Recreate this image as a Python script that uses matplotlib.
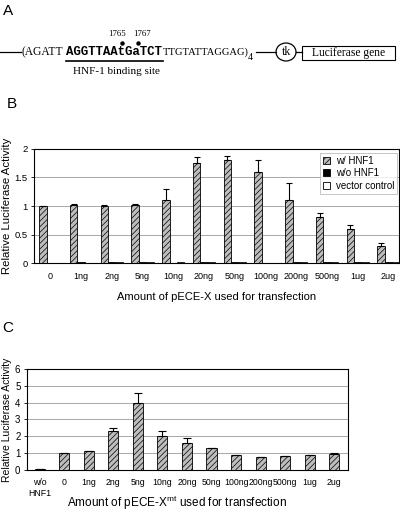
import numpy as np
import matplotlib.pyplot as plt
from matplotlib.patches import Rectangle, Ellipse

plt.rcParams['font.family'] = ['Liberation Sans', 'DejaVu Sans']
plt.rcParams['mathtext.fontset'] = 'custom'
plt.rcParams['mathtext.rm'] = 'Liberation Sans'
plt.rcParams['hatch.color'] = '#555555'
plt.rcParams['hatch.linewidth'] = 0.5

# Panel B data
doses_b = ['0', '1ng', '2ng', '5ng', '10ng', '20ng', '50ng', '100ng', '200ng', '500ng', '1ug', '2ug']
with_hnf1 = [1.0, 1.01, 1.0, 1.01, 1.1, 1.75, 1.8, 1.6, 1.1, 0.8, 0.6, 0.3]
with_hnf1_err = [0.0, 0.03, 0.01, 0.02, 0.2, 0.1, 0.08, 0.2, 0.3, 0.07, 0.07, 0.05]
without_hnf1 = [0.01, 0.03, 0.03, 0.03, 0.01, 0.03, 0.03, 0.01, 0.03, 0.02, 0.02, 0.02]
vector_ctrl = [0.01, 0.01, 0.03, 0.03, 0.03, 0.03, 0.03, 0.01, 0.03, 0.02, 0.02, 0.02]

# Panel C data
doses_c = ['w/o\nHNF1', '0', '1ng', '2ng', '5ng', '10ng', '20ng', '50ng', '100ng', '200ng',
           '500ng', '1ug', '2ug']
mutant = [0.05, 1.0, 1.1, 2.3, 4.0, 2.0, 1.6, 1.3, 0.88, 0.72, 0.8, 0.85, 0.9]
mutant_err = [0.0, 0.0, 0.0, 0.2, 0.6, 0.3, 0.3, 0.0, 0.0, 0.0, 0.0, 0.03, 0.1]

W, H = 400, 512
fig = plt.figure(figsize=(W / 100, H / 100), dpi=100)


def px_axes(x0, y0, x1, y1):
    # axes from pixel box (top-left origin)
    return fig.add_axes([x0 / W, 1 - y1 / H, (x1 - x0) / W, (y1 - y0) / H])


hatch_kw = dict(facecolor='#bdbdbd', hatch='//////', edgecolor='black', linewidth=0.6)

# ---- Panel A: construct diagram (pixel coordinates) ----
ax0 = fig.add_axes([0, 0, 1, 1], zorder=0)
ax0.set_xlim(0, W)
ax0.set_ylim(H, 0)
ax0.axis('off')

ax0.text(8, 11, 'A', fontsize=11, ha='center', va='center')
ax0.text(12, 104, 'B', fontsize=11, ha='center', va='center')
ax0.text(8, 328, 'C', fontsize=11, ha='center', va='center')

ys = 52
serif = 'Liberation Serif'
ax0.plot([0, 21], [ys, ys], color='black', lw=0.9)
ax0.text(22, ys, '(AGATT', family=serif, fontsize=8.3, ha='left', va='center')
ax0.text(66, ys, 'AGGTTAAtGaTCT', family='Liberation Mono', fontweight='bold',
         fontsize=8.9, ha='left', va='center')
ax0.text(163, ys, 'TTGTATTAGGAG)', family=serif, fontsize=7.6, ha='left', va='center')
ax0.text(248, ys + 5, '4', family=serif, fontsize=7, ha='left', va='center')
ax0.plot([66, 163], [60.5, 60.5], color='black', lw=1.2)
ax0.text(116, 71, 'HNF-1 binding site', family=serif, fontsize=8, ha='center', va='center')
ax0.text(117, 34, '1765', family=serif, fontsize=6.3, ha='center', va='center')
ax0.text(142, 34, '1767', family=serif, fontsize=6.3, ha='center', va='center')
ax0.plot([121.7, 137.7], [42.7, 42.7], 'o', color='black', ms=2.2)
ax0.plot([256, 276], [ys, ys], color='black', lw=0.9)
ax0.add_patch(Ellipse((286, ys), 20, 18, fill=False, edgecolor='black', lw=0.9))
ax0.text(286, ys, 'tk', family=serif, fontsize=8.5, ha='center', va='center')
ax0.plot([296, 302], [ys, ys], color='black', lw=0.9)
ax0.add_patch(Rectangle((302, 46), 93, 14, fill=False, edgecolor='black', lw=0.8))
ax0.text(348.5, 53, 'Luciferase gene', family=serif, fontsize=8.3, ha='center', va='center')

# ---- Panel B ----
bx0, bx1 = 34, 399
axb = px_axes(bx0, 148.7, bx1, 263.3)
x = np.arange(len(doses_b))
bw = 0.24
err_b = [np.zeros(len(with_hnf1_err)), with_hnf1_err]
axb.bar(x - bw, with_hnf1, bw, yerr=err_b, capsize=2.3,
        error_kw=dict(elinewidth=0.8, capthick=0.8), label='w/ HNF1', zorder=3, **hatch_kw)
axb.bar(x, without_hnf1, bw, color='black', edgecolor='black', linewidth=0.6,
        label='w/o HNF1', zorder=3)
axb.bar(x + bw, vector_ctrl, bw, color='white', edgecolor='black', linewidth=0.6,
        label='vector control', zorder=3)
axb.set_xlim(-0.53, 11.34)
axb.set_ylim(0, 2)
axb.set_yticks([0, 0.5, 1, 1.5, 2])
axb.set_yticklabels(['0', '0.5', '1', '1.5', '2'], fontsize=6.8)
axb.set_xticks(x)
axb.set_xticklabels(doses_b, fontsize=6.5)
axb.tick_params(axis='x', length=0, pad=6)
axb.tick_params(axis='y', length=2.5, width=0.6, pad=2)
axb.yaxis.grid(True, color='#9a9a9a', lw=0.6, zorder=0)
axb.set_axisbelow(True)
for s in axb.spines.values():
    s.set_linewidth(0.8)
axb.set_ylabel('Relative Luciferase Activity', fontsize=8.2, va='center')
axb.yaxis.set_label_coords((7.5 - bx0) / (bx1 - bx0), 0.5)
axb.set_xlabel('Amount of pECE-X used for transfection', fontsize=8, labelpad=8)
leg = axb.legend(loc='upper right', bbox_to_anchor=(0.995, 0.963), borderaxespad=0,
                 fontsize=7, frameon=True, fancybox=False, edgecolor='#aaaaaa',
                 handlelength=0.7, handleheight=0.7, handletextpad=0.6,
                 labelspacing=0.25, borderpad=0.3)
leg.get_frame().set_linewidth(0.6)

# ---- Panel C ----
cx0, cx1 = 26.7, 348
axc = px_axes(cx0, 369.3, cx1, 469.5)
xc = np.arange(len(doses_c))
err_c = [np.zeros(len(mutant_err)), mutant_err]
axc.bar(xc, mutant, 0.41, yerr=err_c, capsize=2.8,
        error_kw=dict(elinewidth=0.8, capthick=0.8), zorder=3, **hatch_kw)
axc.set_xlim(-0.53, 12.56)
axc.set_ylim(0, 6)
axc.set_yticks(range(0, 7))
axc.set_yticklabels([str(v) for v in range(0, 7)], fontsize=7)
axc.set_xticks(xc)
axc.set_xticklabels(doses_c, fontsize=6.3, linespacing=1.25, va='top')
axc.tick_params(axis='x', length=0, pad=6)
axc.tick_params(axis='y', length=2.5, width=0.6, pad=2)
axc.yaxis.grid(True, color='#9a9a9a', lw=0.6, zorder=0)
axc.set_axisbelow(True)
for s in axc.spines.values():
    s.set_linewidth(0.8)
axc.set_ylabel('Relative Luciferase Activity', fontsize=7.5, va='center')
axc.yaxis.set_label_coords((7 - cx0) / (cx1 - cx0), 0.5)
fig.text(177 / W, 1 - 503 / H, r'Amount of pECE-X$^{\mathrm{mt}}$ used for transfection',
         fontsize=8.5, ha='center', va='center')

fig.savefig('out.png', dpi=100)
